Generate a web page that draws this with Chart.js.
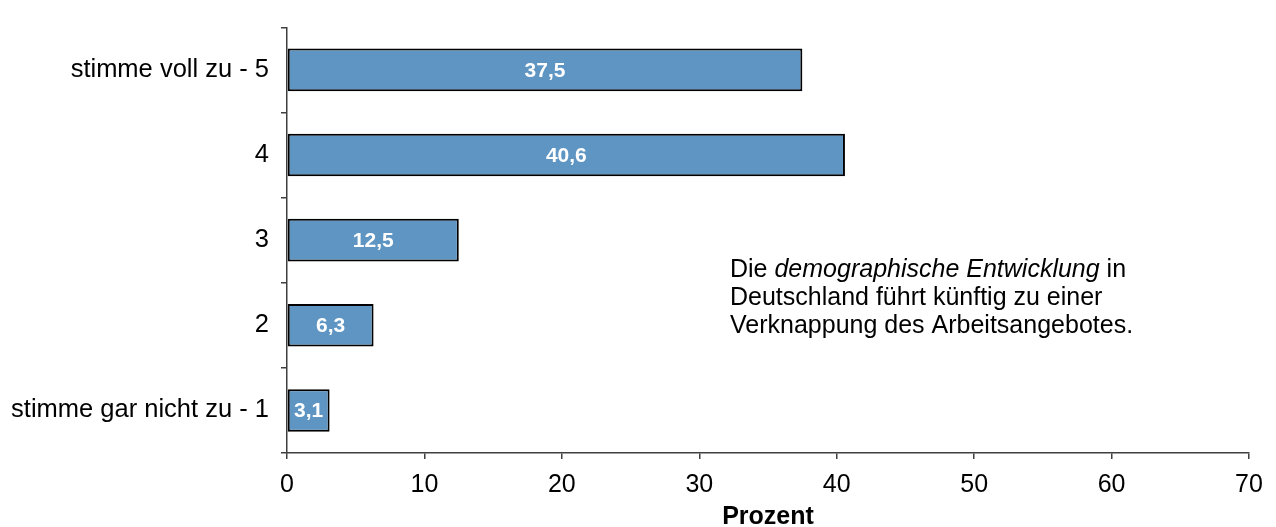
<!DOCTYPE html>
<html>
<head>
<meta charset="utf-8">
<script src="https://cdn.jsdelivr.net/npm/chart.js@4/dist/chart.umd.min.js"></script>
<style>
html,body{margin:0;padding:0;background:#fff;}
#wrap{width:1276px;height:527px;position:relative;}
</style>
</head>
<body>
<div id="wrap"><canvas id="c" width="1276" height="527"></canvas></div>
<script>
const categories = ['stimme voll zu - 5', '4', '3', '2', 'stimme gar nicht zu - 1'];
const values = [37.5, 40.6, 12.5, 6.3, 3.1];
const valueLabels = ['37,5', '40,6', '12,5', '6,3', '3,1'];
const xMin = 0, xMax = 70, xStep = 10;
const axisTitle = 'Prozent';
const noteLines = [
  [['Die ', 'normal'], ['demographische Entwicklung', 'italic'], [' in', 'normal']],
  [['Deutschland führt künftig zu einer', 'normal']],
  [['Verknappung des Arbeitsangebotes.', 'normal']]
];

const FONT = '"Liberation Sans", Arial, sans-serif';
const AXIS_COLOR = '#3f3f3f';

const labelPlugin = {
  id: 'valueLabels',
  afterDatasetsDraw(chart) {
    const ctx = chart.ctx;
    const meta = chart.getDatasetMeta(0);
    ctx.save();
    ctx.font = 'bold 21px ' + FONT;
    ctx.fillStyle = '#ffffff';
    ctx.textAlign = 'center';
    ctx.textBaseline = 'middle';
    meta.data.forEach((bar, i) => {
      const cx = (bar.x + bar.base) / 2;
      ctx.fillText(valueLabels[i], cx, bar.y + 1);
    });
    ctx.restore();
  }
};

const notePlugin = {
  id: 'note',
  afterDraw(chart) {
    const ctx = chart.ctx;
    ctx.save();
    ctx.fillStyle = '#000';
    ctx.textBaseline = 'alphabetic';
    ctx.textAlign = 'left';
    const x0 = 730, y0 = 277, lh = 28;
    noteLines.forEach((line, li) => {
      let x = x0;
      line.forEach(([txt, style]) => {
        ctx.font = (style === 'italic' ? 'italic ' : '') + '25px ' + FONT;
        ctx.fillText(txt, x, y0 + li * lh);
        x += ctx.measureText(txt).width;
      });
    });
    ctx.restore();
  }
};

new Chart(document.getElementById('c'), {
  type: 'bar',
  data: {
    labels: categories,
    datasets: [{
      data: values,
      backgroundColor: '#5f95c3',
      borderColor: '#000000',
      borderWidth: 2,
      borderSkipped: false,
      categoryPercentage: 1.0,
      barPercentage: 0.5
    }]
  },
  options: {
    indexAxis: 'y',
    responsive: false,
    animation: false,
    devicePixelRatio: 1,
    layout: { padding: { top: 12, right: 27, left: 0, bottom: 0 } },
    plugins: { legend: { display: false }, tooltip: { enabled: false } },
    scales: {
      x: {
        min: xMin, max: xMax,
        ticks: { stepSize: xStep, color: '#000', font: { family: FONT, size: 25 }, padding: 11 },
        grid: { drawOnChartArea: false, drawTicks: true, tickLength: 6, color: AXIS_COLOR, lineWidth: 1.5 },
        border: { display: true, color: AXIS_COLOR, width: 1.5 },
        title: { display: true, text: axisTitle, color: '#000', font: { family: FONT, size: 25, weight: 'bold', lineHeight: 0.8 }, padding: { top: 0, bottom: 0 } },
        afterFit(s) { s.height = 74; }
      },
      y: {
        ticks: { color: '#000', font: { family: FONT, size: 25.5 }, padding: 12 },
        grid: { drawOnChartArea: false, drawTicks: true, tickLength: 6, color: AXIS_COLOR, lineWidth: 1.5, offset: true },
        border: { display: true, color: AXIS_COLOR, width: 1.5 },
        afterFit(s) { s.width = 287; }
      }
    }
  },
  plugins: [labelPlugin, notePlugin]
});
</script>
</body>
</html>
